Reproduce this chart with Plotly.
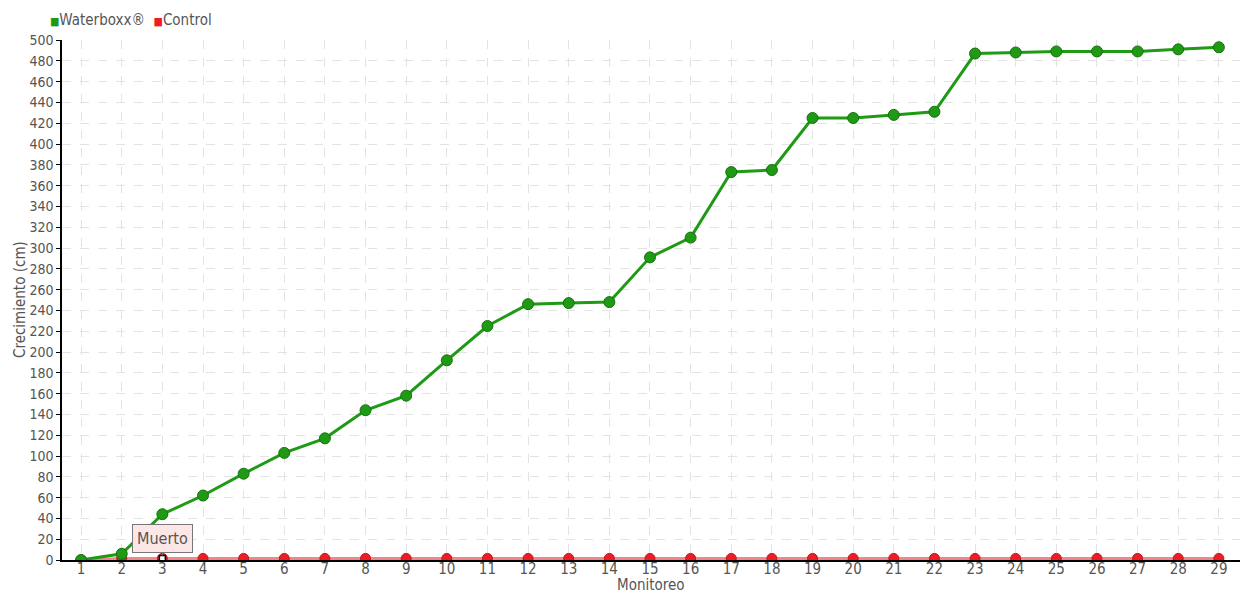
import plotly.graph_objects as go

monitoreo = list(range(1, 30))
waterboxx = [0, 6, 44, 62, 83, 103, 117, 144, 158, 192, 225, 246, 247, 248, 291, 310,
             373, 375, 425, 425, 428, 431, 487, 488, 489, 489, 489, 491, 493]
control = [0] + [1.5] * 28
y_ticks = list(range(0, 501, 20))
series_names = ["Waterboxx®", "Control"]
x_title = "Monitoreo"
y_title = "Crecimiento (cm)"
note_text = "Muerto"
note_index = 3

FONT = "Liberation Sans Narrow, DejaVu Sans Condensed"
GREEN = "#1f9a14"
RED = "#ee1c25"
TXT = "#555"

fig = go.Figure()

fig.add_trace(go.Scatter(
    x=monitoreo, y=control, mode="lines+markers", showlegend=False, name=series_names[1],
    line=dict(color="rgba(240,110,120,0.85)", width=3),
    marker=dict(color=RED, size=10, line=dict(color="#c8101a", width=1)),
    hoverinfo="skip"))

fig.add_trace(go.Scatter(
    x=monitoreo, y=waterboxx, mode="lines+markers", showlegend=False, name=series_names[0],
    line=dict(color=GREEN, width=3),
    marker=dict(color=GREEN, size=11, line=dict(color="#17700f", width=1)),
    hoverinfo="skip"))

# white square for the "Muerto" point
fig.add_trace(go.Scatter(
    x=[note_index], y=[control[note_index - 1]], mode="markers", showlegend=False,
    marker=dict(symbol="square", color="white", size=6, line=dict(color="black", width=1.5)),
    hoverinfo="skip"))

# compact legend as text
legend_text = (f"<span style='color:{GREEN};font-size:11px'>■</span>{series_names[0]}  "
               f"<span style='color:{RED};font-size:11px'>■</span>{series_names[1]}")
fig.add_annotation(
    x=0, y=1, xref="paper", yref="paper", xshift=-14, yshift=9,
    xanchor="left", yanchor="bottom", showarrow=False, text=legend_text,
    font=dict(family=FONT, size=15, color=TXT))

# axis titles
fig.add_annotation(
    x=0.5, y=0, xref="paper", yref="paper", yshift=-14, xanchor="center", yanchor="top",
    showarrow=False, text=x_title, font=dict(family=FONT, size=15, color=TXT))
fig.add_annotation(
    x=0, y=0.5, xref="paper", yref="paper", xshift=-42, xanchor="center", yanchor="middle",
    textangle=-90, showarrow=False, text=y_title, font=dict(family=FONT, size=15, color=TXT))

fig.add_annotation(
    x=note_index, y=control[note_index - 1], text=note_text,
    showarrow=True, arrowhead=0, arrowwidth=1, arrowcolor="#777",
    ax=0, ay=-20, standoff=3,
    bgcolor="#fde6e6", bordercolor="#777", borderwidth=1, borderpad=4,
    font=dict(family=FONT, size=16, color=TXT))

fig.update_layout(
    width=1260, height=600,
    margin=dict(l=54, r=28, t=32, b=48, autoexpand=False),
    paper_bgcolor="white", plot_bgcolor="white",
    showlegend=False,
    font=dict(family=FONT, size=15, color=TXT),
    xaxis=dict(
        tickmode="array", tickvals=monitoreo, ticktext=[str(m) for m in monitoreo],
        range=[0.53, 29.52], showline=True, linecolor="black", linewidth=1.5,
        showgrid=True, gridcolor="#e3e3e3", griddash="dash", gridwidth=1,
        ticks="", zeroline=False, automargin=False, ticklabelstandoff=-6),
    yaxis=dict(
        tickmode="array", tickvals=y_ticks, range=[0, 500],
        tickfont=dict(family=FONT, size=14, color=TXT),
        showline=True, linecolor="black", linewidth=1.5,
        ticks="outside", ticklen=4, tickcolor="black",
        showgrid=True, gridcolor="#e3e3e3", griddash="dash", gridwidth=1,
        zeroline=False, automargin=False),
)

fig.write_html("out.html")
